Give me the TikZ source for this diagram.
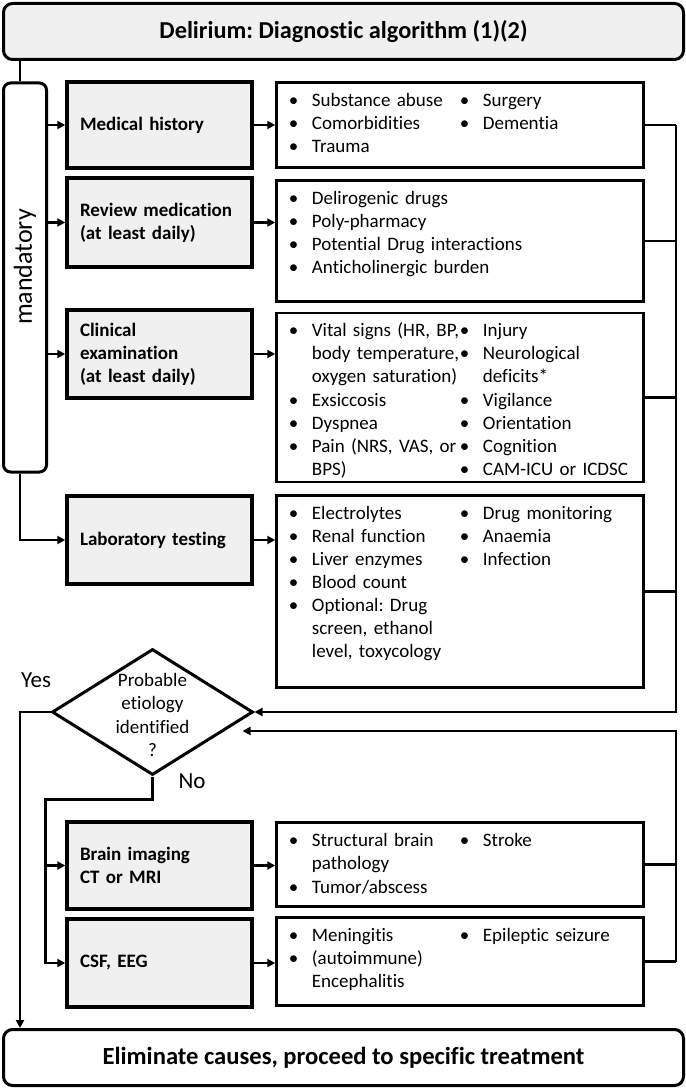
\documentclass[tikz,border=0pt]{standalone}
\usepackage{fontspec}
\setmainfont{Carlito}[Ligatures=NoCommon]
\usetikzlibrary{shapes.geometric,arrows.meta}
\definecolor{boxgrey}{HTML}{F0F0F0}
\frenchspacing
\newcommand{\itm}[2][166pt]{\par\noindent\makebox[23pt][l]{\textbullet}\parbox[t]{#1}{\raggedright\strut#2\strut}}
\tikzstyle{headbox} = [draw, fill=boxgrey, line width=3pt, rounded corners=9pt,
    minimum width=680pt, minimum height=56pt, font=\fontsize{24.3}{28}\selectfont\bfseries]
\tikzstyle{endbox} = [draw, fill=white, line width=3pt, rounded corners=9pt,
    minimum width=680pt, minimum height=56pt, font=\fontsize{24.6}{28}\selectfont\bfseries]
\tikzstyle{mandbox} = [draw, fill=white, line width=3pt, rounded corners=7pt,
    minimum width=43pt, minimum height=389pt, inner sep=0pt]
\tikzstyle{testbox} = [draw, fill=boxgrey, line width=3.5pt, minimum width=185pt,
    inner xsep=13pt, text width=159pt, align=left, font=\fontsize{19}{23}\selectfont\bfseries]
\tikzstyle{findbox} = [draw, fill=white, line width=2.5pt, minimum width=367pt]
\tikzstyle{listcol} = [anchor=north west, inner sep=0pt, text width=200pt, font=\fontsize{19}{23}\selectfont]
\tikzstyle{conn} = [line width=2.5pt]
\tikzstyle{arr} = [conn, -{Triangle[length=8pt,width=8pt]}]

\begin{document}
\begin{tikzpicture}[x=1pt,y=1pt]
\useasboundingbox (0,0) rectangle (685,-1089);
\node [headbox] (title) at (343.5,-31.5) {Delirium: Diagnostic algorithm (1)(2)};
\node [mandbox] (mand) at (25,-277.5) {};
\node [rotate=90, font=\fontsize{26}{30}\selectfont] (mandtext) at (25,-267) {mandatory};
\coordinate (spine) at (20,0);
\draw [conn] (spine |- title.south) -- (spine |- mand.north);

\node [testbox, minimum height=86pt] (hist) at (159.5,-125) {Medical history};
\node [testbox, minimum height=89pt] (med) at (159.5,-222.5) {Review medication\\(at least daily)};
\node [testbox, minimum height=88pt] (clin) at (159.5,-354) {Clinical\\examination\\(at least daily)};
\node [testbox, minimum height=88pt] (lab) at (159.5,-540) {Laboratory testing};
\node [testbox, minimum height=87pt] (brain) at (159.5,-865.5) {Brain imaging\\CT or MRI};
\node [testbox, minimum height=88pt] (csf) at (159.5,-963) {CSF, EEG};

\node [findbox, minimum height=85pt] (hist-r) at (460,-125) {};
\node [findbox, minimum height=121pt] (med-r) at (460,-241) {};
\node [findbox, minimum height=169pt] (clin-r) at (460,-397.5) {};
\node [findbox, minimum height=192pt] (lab-r) at (460,-591.5) {};
\node [findbox, minimum height=84pt] (brain-r) at (460,-864.5) {};
\node [findbox, minimum height=88pt] (csf-r) at (460,-961.5) {};

\node [listcol] (hist-a) at ([shift={(13.5,-2)}]hist-r.north west)
    {\itm{Substance abuse}\itm{Comorbidities}\itm{Trauma}};
\node [listcol] (hist-b) at ([shift={(184.5,-2)}]hist-r.north west)
    {\itm[150pt]{Surgery}\itm[150pt]{Dementia}};
\node [listcol, text width=340pt] (med-a) at ([shift={(13.5,-2)}]med-r.north west)
    {\itm[310pt]{Delirogenic drugs}\itm[310pt]{Poly-pharmacy}\itm[310pt]{Potential Drug interactions}\itm[310pt]{Anticholinergic burden}};
\node [listcol] (clin-a) at ([shift={(13.5,-2)}]clin-r.north west)
    {\itm{Vital signs (HR, BP,\\body temperature,\\oxygen saturation)}\itm{Exsiccosis}\itm{Dyspnea}\itm{Pain (NRS, VAS, or\\BPS)}};
\node [listcol] (clin-b) at ([shift={(184.5,-2)}]clin-r.north west)
    {\itm[150pt]{Injury}\itm[150pt]{Neurological\\deficits*}\itm[150pt]{Vigilance}\itm[150pt]{Orientation}\itm[150pt]{Cognition}\itm[150pt]{CAM-ICU or ICDSC}};
\node [listcol] (lab-a) at ([shift={(13.5,-2)}]lab-r.north west)
    {\itm{Electrolytes}\itm{Renal function}\itm{Liver enzymes}\itm{Blood count}\itm{Optional: Drug\\screen, ethanol\\level, toxycology}};
\node [listcol] (lab-b) at ([shift={(184.5,-2)}]lab-r.north west)
    {\itm[150pt]{Drug monitoring}\itm[150pt]{Anaemia}\itm[150pt]{Infection}};
\node [listcol] (brain-a) at ([shift={(13.5,-2)}]brain-r.north west)
    {\itm{Structural brain\\pathology}\itm{Tumor/abscess}};
\node [listcol] (brain-b) at ([shift={(184.5,-2)}]brain-r.north west)
    {\itm[150pt]{Stroke}};
\node [listcol] (csf-a) at ([shift={(13.5,-2)}]csf-r.north west)
    {\itm{Meningitis}\itm{(autoimmune)\\Encephalitis}};
\node [listcol] (csf-b) at ([shift={(184.5,-2)}]csf-r.north west)
    {\itm[150pt]{Epileptic seizure}};

\node [draw, diamond, line width=3pt, minimum width=201pt, minimum height=126pt, inner sep=0pt] (dia) at (152.5,-712) {};
\node [align=center, font=\fontsize{19}{23.5}\selectfont] (diatext) at (152.5,-715) {Probable\\etiology\\identified\\?};
\node [font=\fontsize{23}{27}\selectfont] (yes) at (36,-680) {Yes};
\node [font=\fontsize{23}{27}\selectfont] (no) at (192,-781) {No};

\node [endbox] (final) at (343.5,-1057.5) {Eliminate causes, proceed to specific treatment};

\foreach \n in {hist,med,clin}
    \draw [arr] (mand.east |- \n.west) -- (\n.west);
\draw [arr] (spine |- mand.south) |- (lab.west);
\foreach \n in {hist,med,clin,lab,brain,csf}
    \draw [arr] (\n.east) -- (\n.east -| \n-r.west);

\draw [conn] (hist-r.east) -- ++(31,0) coordinate (rtop);
\draw [arr] (rtop) |- (dia.east);
\foreach \n in {med,clin,lab}
    \draw [conn] (\n-r.east) -- (\n-r.east -| rtop);

\draw [conn] (csf-r.east) -- ++(31,0) coordinate (rbot);
\draw [arr] (rbot) |- ([shift={(-12,-19)}]dia.east);
\draw [conn] (brain-r.east) -- (brain-r.east -| rbot);

\draw [arr] (dia.west) -| (spine |- final.north);
\draw [arr] (dia.south) -- ++(0,-23) -| ([xshift=-20pt]brain.west) |- (csf.west);
\draw [arr] ([xshift=-20pt]brain.west) -- (brain.west);
\end{tikzpicture}
\end{document}
